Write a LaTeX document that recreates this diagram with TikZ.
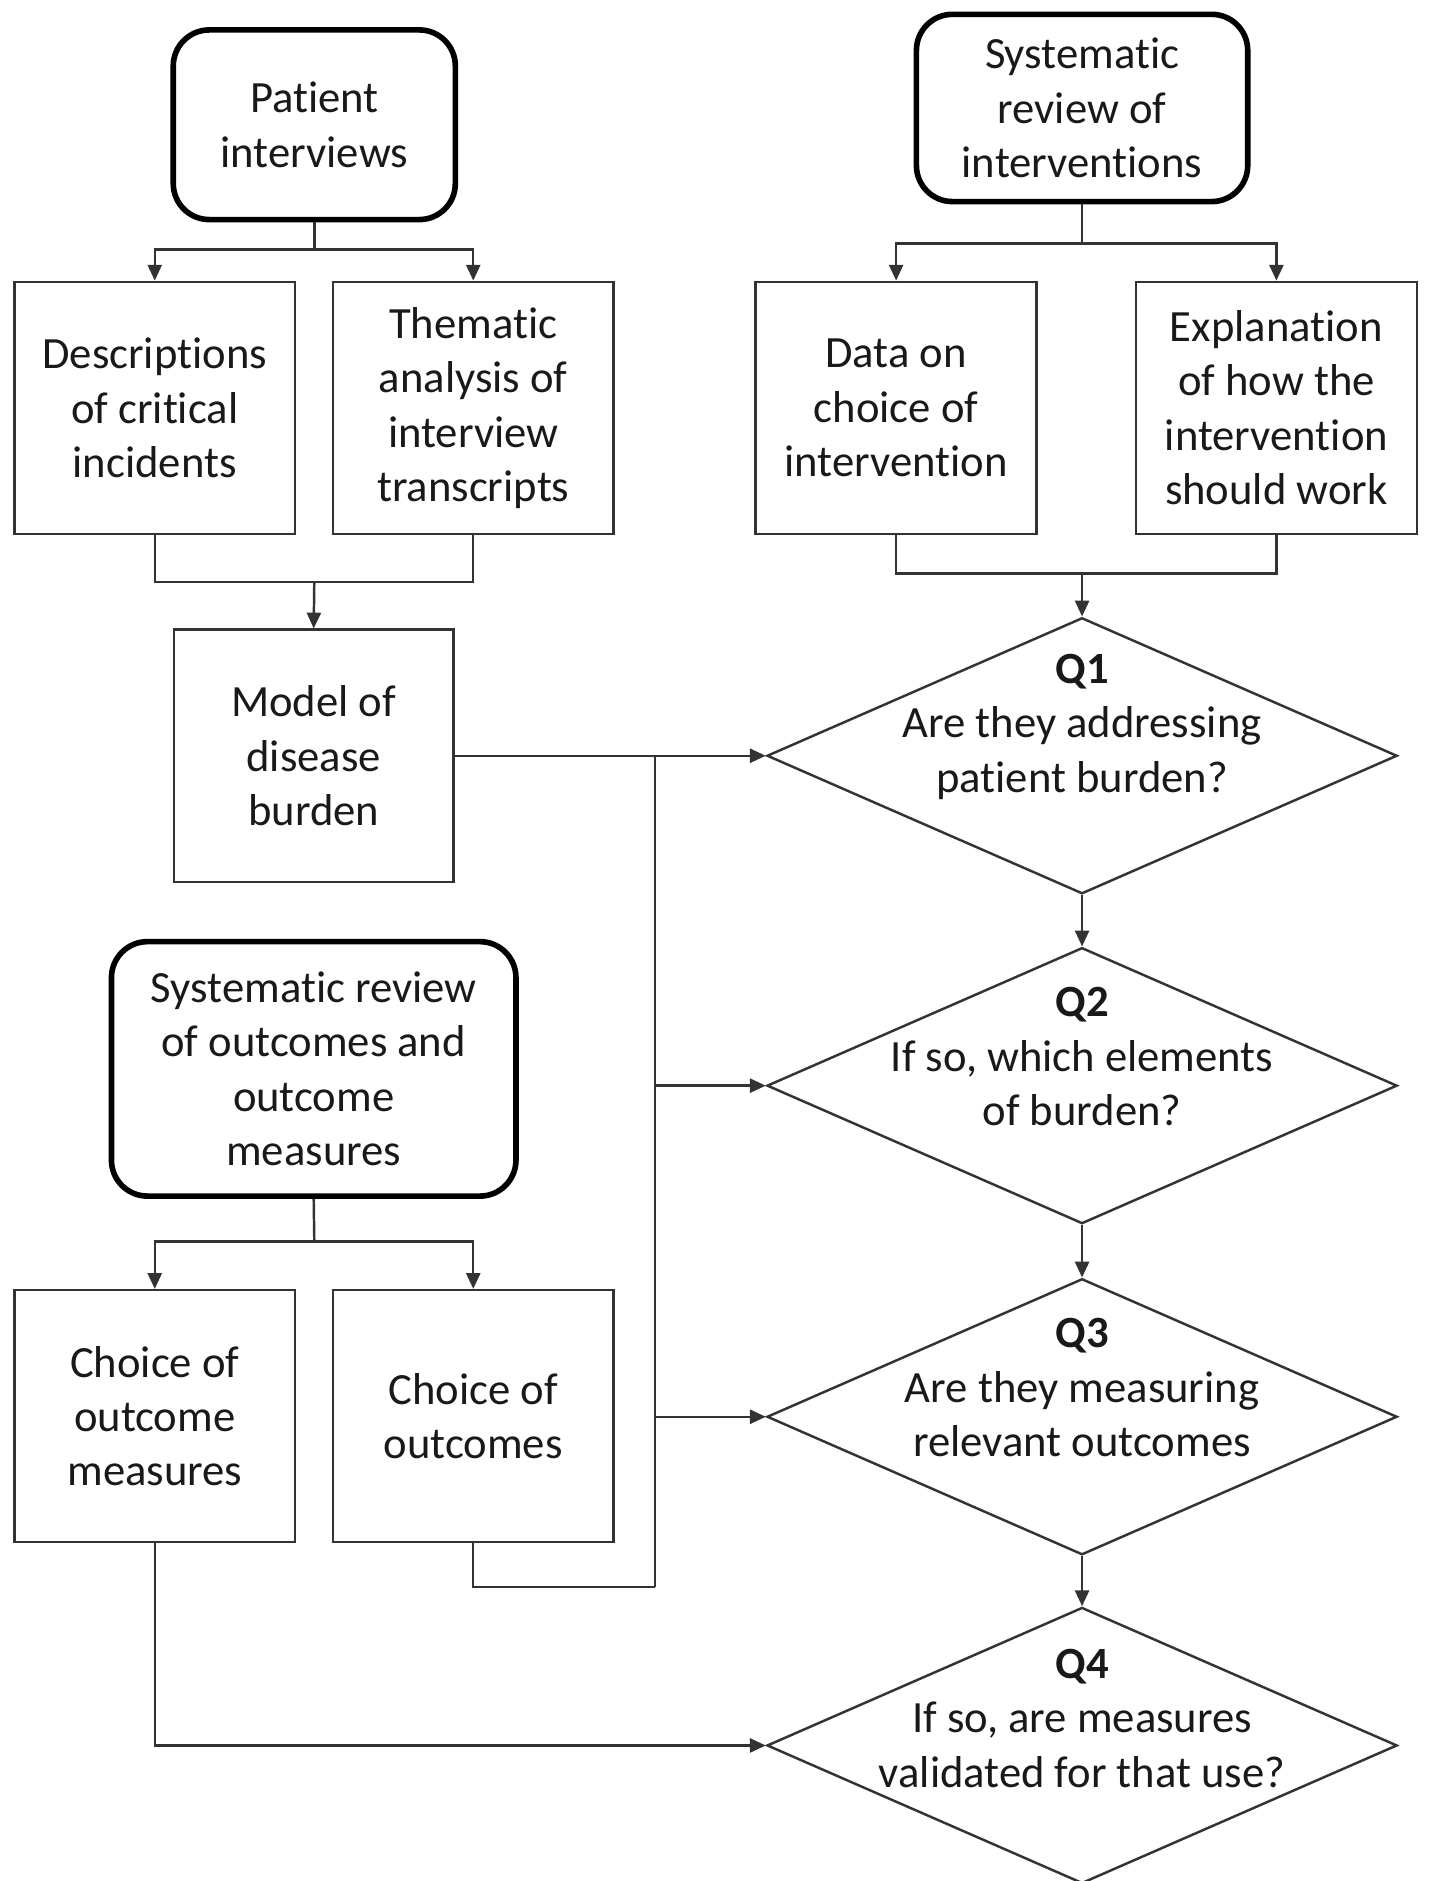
\documentclass[tikz,border=0pt]{standalone}
\usepackage{fontspec}
\setmainfont{Carlito}[Ligatures=NoCommon]
\usetikzlibrary{shapes.geometric,arrows.meta,calc}
\begin{document}
\begin{tikzpicture}[x=0.012cm,y=-0.012cm,
  every node/.style={font=\fontsize{12.7}{15.5}\selectfont, text=black!90},
  box/.style={draw=black!80, line width=0.7pt, rectangle, align=center,
    minimum width=2.808cm, minimum height=2.52cm, inner sep=2pt},
  srcbox/.style={draw=black, line width=1.6pt, rectangle, rounded corners=0.36cm,
    align=center, inner sep=2pt},
  dia/.style={draw=black!80, line width=0.7pt, diamond, inner sep=0pt,
    minimum width=6.3cm, minimum height=2.76cm},
  con/.style={draw=black!80, line width=0.7pt},
  arr/.style={con, -{Triangle[length=4.5pt,width=4pt]}}
]
\useasboundingbox (0,0) rectangle (1191,1568);

% left top
\node[srcbox, minimum width=2.82cm, minimum height=1.896cm] (pi) at (262,104) {Patient\\interviews};
\node[box] (desc) at (129,340) {Descriptions\\of critical\\incidents};
\node[box] (them) at (394.5,340) {Thematic\\analysis of\\interview\\transcripts};
\node[box, minimum width=2.796cm] (model) at (261.5,630) {Model of\\disease\\burden};

% right top
\node[srcbox, minimum width=3.312cm, minimum height=1.872cm] (sri) at (902,90) {Systematic\\review of\\interventions};
\node[box] (data) at (747,340) {Data on\\choice of\\intervention};
\node[box] (expl) at (1064,340) {Explanation\\of how the\\intervention\\should work};

% left bottom
\node[srcbox, minimum width=4.044cm, minimum height=2.544cm] (sro) at (261.5,891) {Systematic review\\of outcomes and\\outcome\\measures};
\node[box] (ocm) at (129,1180.5) {Choice of\\outcome\\measures};
\node[box] (outc) at (394.5,1180.5) {Choice of\\outcomes};

% diamonds
\node[dia, label={[align=center, yshift=0.29cm]center:{\textbf{Q1}\\Are they addressing\\patient burden?}}] (q1) at (902,630) {};
\node[dia, label={[align=center, yshift=0.29cm]center:{\textbf{Q2}\\If so, which elements\\of burden?}}] (q2) at (902,905) {};
\node[dia, label={[align=center, yshift=0.29cm]center:{\textbf{Q3}\\Are they measuring\\relevant outcomes}}] (q3) at (902,1181) {};
\node[dia, label={[align=center, yshift=0.27cm]center:{\textbf{Q4}\\If so, are measures\\validated for that use?}}] (q4) at (902,1455) {};

% junctions
\coordinate (j1) at (262,208);
\coordinate (m1) at (262,485);
\coordinate (j2) at (902,203);
\coordinate (m2) at (902,478);
\coordinate (j3) at (262,1035);
\coordinate (b1) at (546,630);
\coordinate (b2) at (546,1323);
\coordinate (b3) at (546,905);
\coordinate (b4) at (546,1181);

% connectors
\draw[con] (pi.south) -- (j1);
\draw[arr] (j1) -| (desc.north);
\draw[arr] (j1) -| (them.north);
\draw[con] (desc.south) |- (m1) -| (them.south);
\draw[arr] (m1) -- (model.north);

\draw[con] (sri.south) -- (j2);
\draw[arr] (j2) -| (data.north);
\draw[arr] (j2) -| (expl.north);
\draw[con] (data.south) |- (m2) -| (expl.south);
\draw[arr] (m2) -- (q1.north);

\draw[con] (sro.south) -- (j3);
\draw[arr] (j3) -| (ocm.north);
\draw[arr] (j3) -| (outc.north);

\draw[arr] (model.east) -- (q1.west);
\draw[con] (b1) -- (b2);
\draw[arr] (b3) -- (q2.west);
\draw[arr] (b4) -- (q3.west);
\draw[con] (outc.south) |- (b2);
\draw[arr] (ocm.south) |- (q4.west);

\draw[arr] (q1.south) -- (q2.north);
\draw[arr] (q2.south) -- (q3.north);
\draw[arr] (q3.south) -- (q4.north);
\end{tikzpicture}
\end{document}
